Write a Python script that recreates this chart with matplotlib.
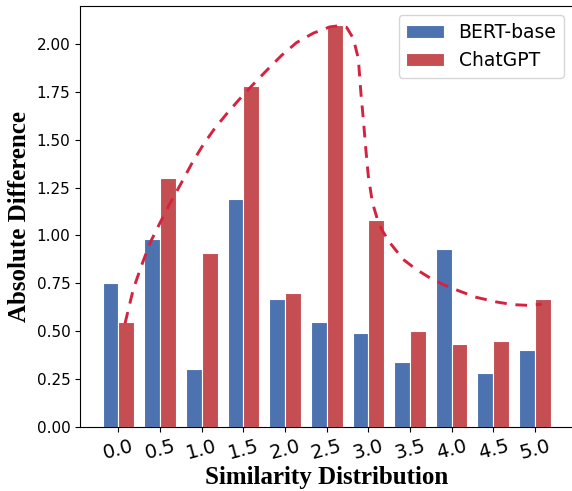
import matplotlib
matplotlib.use('Agg')
import matplotlib.pyplot as plt
import numpy as np

# similarity bins
sim = [0.0, 0.5, 1.0, 1.5, 2.0, 2.5, 3.0, 3.5, 4.0, 4.5, 5.0]
tick_labels = ['0.0', '0.5', '1.0', '1.5', '2.0', '2.5', '3.0', '3.5', '4.0', '4.5', '5.0']
bert = [0.75, 0.98, 0.30, 1.19, 0.67, 0.55, 0.49, 0.34, 0.93, 0.28, 0.40]
chatgpt = [0.55, 1.30, 0.91, 1.78, 0.70, 2.10, 1.08, 0.50, 0.43, 0.45, 0.67]

# dashed trend curve traced over the ChatGPT bars
trend_x = [0.08, 0.18, 0.28, 0.38, 0.50, 0.62, 0.74, 0.88, 1.02, 1.16, 1.30, 1.44,
           1.60, 1.80, 1.96, 2.14, 2.34, 2.54, 2.66, 2.74, 2.82, 2.88, 2.91, 2.94,
           2.97, 3.00, 3.05, 3.11, 3.16, 3.26, 3.42, 3.58, 3.74, 3.90, 4.10, 4.30,
           4.54, 4.74, 4.94, 5.08]
trend_y = [0.54, 0.72, 0.845, 0.961, 1.066, 1.168, 1.262, 1.375, 1.476, 1.562, 1.636, 1.706,
           1.782, 1.872, 1.942, 2.009, 2.058, 2.091, 2.097, 2.088, 2.030, 1.925, 1.750, 1.607,
           1.45, 1.31, 1.17, 1.083, 1.031, 0.961, 0.874, 0.821, 0.778, 0.743, 0.708, 0.676,
           0.652, 0.638, 0.634, 0.641]


def main():
    fig = plt.figure(figsize=(5.72, 4.91), dpi=100)
    ax = fig.add_axes([0.1399, 0.131, 0.8624, 0.8568])

    x = np.array(sim)
    w = 0.19
    ax.bar(x - w / 2, bert, width=w, color='#4C72B0', edgecolor='white', linewidth=0.8,
           label='BERT-base')
    ax.bar(x + w / 2, chatgpt, width=w, color='#C44E52', edgecolor='white', linewidth=0.8,
           label='ChatGPT')
    ax.plot(trend_x, trend_y, linestyle=(0, (4.0, 3.0)), color='#D42340', linewidth=2.1)

    ax.set_xlim(-0.46, 5.46)
    ax.set_ylim(0, 2.2)
    ax.set_xticks(sim)
    ax.set_xticklabels(tick_labels, rotation=15, fontsize=14)
    ax.set_yticks([0, 0.25, 0.5, 0.75, 1.0, 1.25, 1.5, 1.75, 2.0])
    ax.set_yticklabels(['0.00', '0.25', '0.50', '0.75', '1.00', '1.25', '1.50', '1.75', '2.00'],
                       fontsize=11)

    ax.set_xlabel('Similarity Distribution', family='Liberation Serif', fontweight='bold',
                  fontsize=18, labelpad=2)
    ax.set_ylabel('Absolute Difference', family='Liberation Serif', fontweight='bold',
                  fontsize=18)
    ax.legend(loc='upper right', fontsize=13.5)

    fig.savefig('out.png', dpi=100)


if __name__ == '__main__':
    main()
